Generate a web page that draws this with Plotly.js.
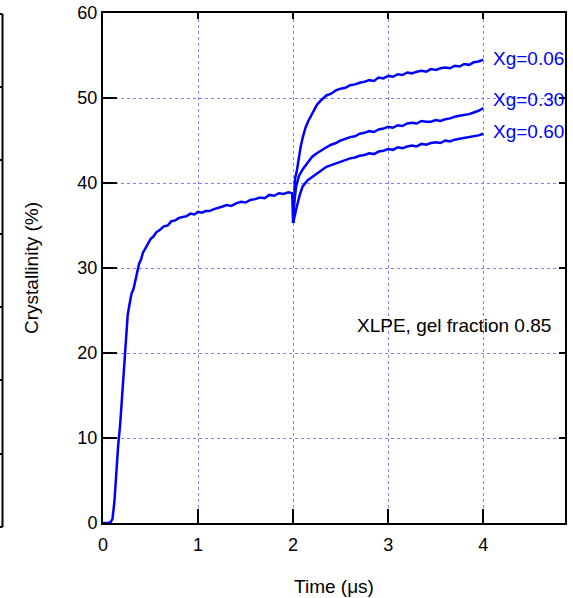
<!DOCTYPE html>
<html>
<head>
<meta charset="utf-8">
<script src="https://cdn.plot.ly/plotly-3.0.1.min.js"></script>
<style>html,body{margin:0;padding:0;background:#fff;}#chart{width:573px;height:598px;}</style>
</head>
<body>
<div id="chart"></div>
<script>
// Common crystallization curve (0 - 2 µs)
const baseTime = [0,0.06,0.08,0.10,0.12,0.14,0.16,0.18,0.20,0.22,0.24,0.26,0.28,0.30,0.32,0.34,0.36,0.38,0.40,0.42,0.44,0.47,0.50,0.53,0.56,0.60,0.64,0.68,0.72,0.76,0.80,0.84,0.88,0.92,0.96,1.00,1.04,1.08,1.12,1.16,1.20,1.25,1.30,1.35,1.40,1.45,1.50,1.55,1.60,1.65,1.70,1.75,1.80,1.85,1.90,1.95,1.99,2.00];
const baseCryst = [0,0,0.1,0.5,2.5,6.5,9.2,11.5,14.5,18.5,21.5,24.5,25.8,27.0,27.5,28.6,29.8,30.5,31.0,31.8,32.2,32.9,33.4,33.7,34.2,34.5,34.9,35.0,35.5,35.6,35.9,36.0,36.1,36.4,36.3,36.6,36.5,36.7,36.7,36.9,37.0,37.2,37.4,37.3,37.6,37.8,37.7,38.0,38.1,38.3,38.2,38.6,38.5,38.8,38.7,38.9,38.8,35.3];

// Branches after 2 µs
const seriesNames = ['Xg=0.06','Xg=0.30','Xg=0.60'];
const time006 = [2.00,2.01,2.02,2.04,2.06,2.08,2.10,2.13,2.16,2.20,2.25,2.30,2.35,2.40,2.45,2.50,2.55,2.60,2.65,2.70,2.75,2.80,2.85,2.90,2.95,3.00,3.05,3.10,3.15,3.20,3.25,3.30,3.35,3.40,3.45,3.50,3.55,3.60,3.65,3.70,3.75,3.80,3.85,3.90,3.95,4.00];
const cryst006 = [35.3,39.0,40.5,41.5,43.0,44.3,45.3,46.5,47.3,48.2,49.2,49.8,50.3,50.5,50.9,51.1,51.2,51.5,51.6,51.8,51.9,52.1,52.0,52.4,52.3,52.6,52.5,52.8,52.7,53.0,52.9,53.1,53.2,53.1,53.4,53.3,53.5,53.6,53.5,53.8,53.7,54.0,53.9,54.2,54.3,54.5];
const time030 = [2.00,2.01,2.03,2.06,2.10,2.15,2.20,2.25,2.30,2.35,2.40,2.45,2.50,2.55,2.60,2.65,2.70,2.75,2.80,2.85,2.90,2.95,3.00,3.05,3.10,3.15,3.20,3.25,3.30,3.35,3.40,3.45,3.50,3.55,3.60,3.65,3.70,3.75,3.80,3.85,3.90,3.95,4.00];
const cryst030 = [35.3,37.5,39.5,40.8,41.6,42.4,43.1,43.5,43.9,44.2,44.5,44.7,45.0,45.2,45.4,45.5,45.8,45.9,46.1,46.0,46.3,46.4,46.6,46.5,46.8,46.7,47.0,47.1,47.0,47.3,47.2,47.2,47.4,47.3,47.5,47.6,47.8,47.9,48.0,48.1,48.3,48.5,48.8];
const time060 = [2.00,2.02,2.04,2.07,2.10,2.15,2.20,2.25,2.30,2.35,2.40,2.45,2.50,2.55,2.60,2.65,2.70,2.75,2.80,2.85,2.90,2.95,3.00,3.05,3.10,3.15,3.20,3.25,3.30,3.35,3.40,3.45,3.50,3.55,3.60,3.65,3.70,3.75,3.80,3.85,3.90,3.95,4.00];
const cryst060 = [35.3,36.5,37.3,38.6,39.6,40.3,40.7,41.2,41.6,41.9,42.1,42.3,42.5,42.7,42.9,43.0,43.2,43.3,43.5,43.4,43.7,43.8,44.0,43.9,44.2,44.1,44.3,44.4,44.3,44.6,44.5,44.7,44.8,44.7,45.0,44.9,45.1,45.2,45.3,45.4,45.5,45.6,45.8];
const labelY = [54.6,49.8,46.1];

const xTicks = [0,1,2,3,4];
const yTicks = [0,10,20,30,40,50,60];
const noteText = 'XLPE, gel fraction 0.85';

const blue = '#0000ff';
const lineStyle = {color: blue, width: 2.5};
const traces = [
  {x: baseTime, y: baseCryst, mode: 'lines', line: lineStyle, showlegend: false},
  {x: time006, y: cryst006, mode: 'lines', line: lineStyle, name: seriesNames[0], showlegend: false},
  {x: time030, y: cryst030, mode: 'lines', line: lineStyle, name: seriesNames[1], showlegend: false},
  {x: time060, y: cryst060, mode: 'lines', line: lineStyle, name: seriesNames[2], showlegend: false},
  // invisible trace for the short mirror ticks axes
  {x: [0], y: [0], xaxis: 'x3', yaxis: 'y3', mode: 'markers', marker: {opacity: 0}, hoverinfo: 'skip', showlegend: false}
];

const W = 573, H = 598, ml = 0, mr = 8, mt = 13, mb = 75;
const pw = W - ml - mr, ph = H - mt - mb;
const px = v => (v - ml) / pw;
const py = v => (H - mb - v) / ph;

const fnt = {family: 'Liberation Sans, Arial, sans-serif', size: 18, color: '#000'};
const gridCol = '#8080ff';

// Left cut-off panel edge
const stripTicks = [14, 87, 160, 234, 307, 380, 454, 527];
const shapes = [
  {type: 'line', xref: 'paper', yref: 'paper', x0: px(2.5), x1: px(2.5), y0: py(14), y1: py(527), line: {color: '#000', width: 2}},
];
stripTicks.forEach(t => shapes.push({type: 'line', xref: 'paper', yref: 'paper', x0: px(-1), x1: px(2.5), y0: py(t), y1: py(t), line: {color: '#000', width: 2}}));

const annotations = [
  {x: 3.69, y: 23.2, xref: 'x', yref: 'y', text: noteText, showarrow: false, font: {family: fnt.family, size: 19, color: '#000'}}
];
seriesNames.forEach((n, i) => annotations.push({x: 4.08, y: labelY[i], xref: 'x', yref: 'y', text: n, xanchor: 'left', showarrow: false, font: {family: fnt.family, size: 19, color: blue}}));

const xDom = [px(103), 1];
const layout = {
  width: W, height: H,
  margin: {l: ml, r: mr, t: mt, b: mb},
  paper_bgcolor: '#fff', plot_bgcolor: '#fff',
  font: fnt,
  showlegend: false,
  xaxis: {
    domain: xDom, range: [0, 4.86], tickvals: xTicks, ticktext: xTicks.map(String),
    ticks: 'inside', ticklen: 14, tickwidth: 2, tickcolor: '#000',
    showline: true, linecolor: '#000', linewidth: 2, mirror: true,
    showgrid: true, gridcolor: gridCol, griddash: 'dot', gridwidth: 1,
    zeroline: false, tickfont: fnt, ticklabelstandoff: 4,
    title: {text: 'Time (μs)', font: {family: fnt.family, size: 19, color: '#000'}, standoff: 26}
  },
  yaxis: {
    range: [0, 60], tickvals: yTicks, ticktext: yTicks.map(String),
    ticks: 'inside', ticklen: 14, tickwidth: 2, tickcolor: '#000',
    showline: true, linecolor: '#000', linewidth: 2, mirror: true,
    showgrid: true, gridcolor: gridCol, griddash: 'dot', gridwidth: 1,
    zeroline: false, tickfont: fnt,
    title: {text: 'Crystallinity (%)', font: {family: fnt.family, size: 19, color: '#000'}, standoff: 34}
  },
  xaxis3: {domain: xDom, overlaying: 'x', side: 'top', anchor: 'y3', range: [0, 4.86], tickvals: xTicks, ticks: 'inside', ticklen: 6, tickwidth: 2, tickcolor: '#000', showticklabels: false, showgrid: false, showline: false, zeroline: false},
  yaxis3: {overlaying: 'y', side: 'right', anchor: 'x3', range: [0, 60], tickvals: yTicks, ticks: 'inside', ticklen: 6, tickwidth: 2, tickcolor: '#000', showticklabels: false, showgrid: false, showline: false, zeroline: false},
  shapes: shapes,
  annotations: annotations
};

Plotly.newPlot('chart', traces, layout, {displayModeBar: false, staticPlot: true});
</script>
</body>
</html>
